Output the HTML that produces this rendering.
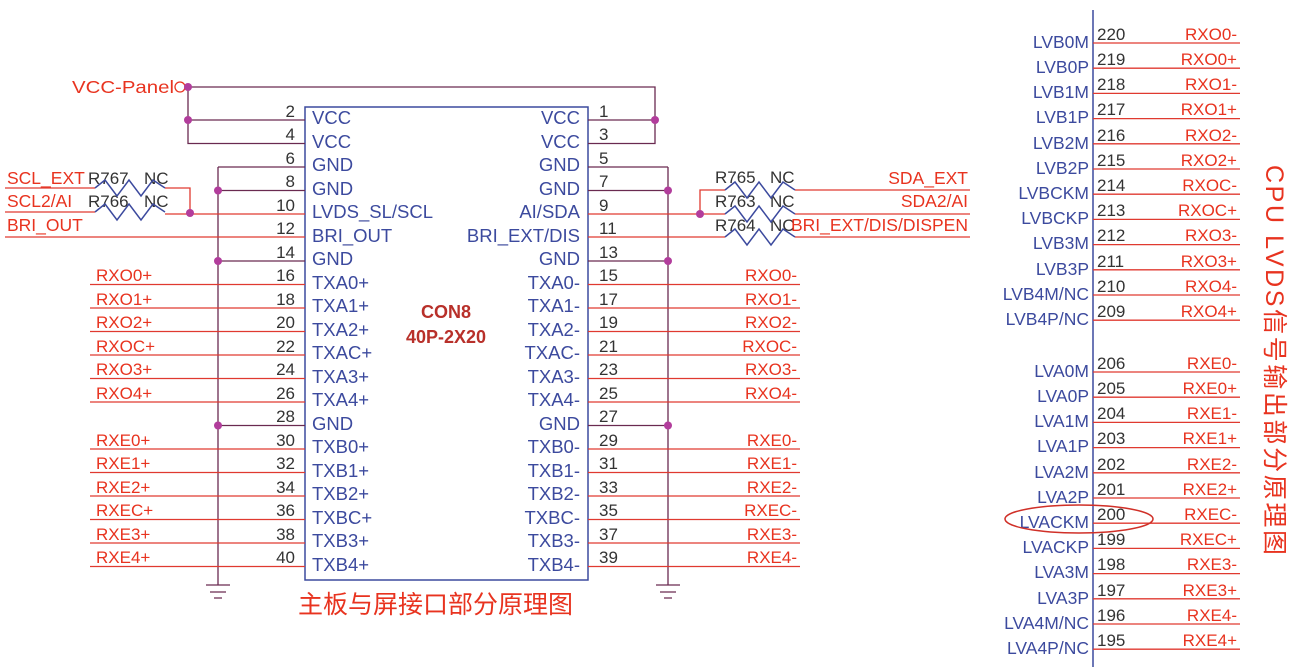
<!DOCTYPE html>
<html><head><meta charset="utf-8"><style>
html,body{margin:0;padding:0;background:#fff;}
svg{display:block;font-family:"Liberation Sans","Noto Sans CJK SC",sans-serif;}
.b{fill:#3c4a9e;}
.r{fill:#e8331f;}
.n{fill:#333;}
.w{stroke:#e03a30;stroke-width:1.3;fill:none;}
.k{stroke:#6a2a50;stroke-width:1.3;fill:none;}
.d{fill:#b23d9c;}
.z{stroke:#3c4a9e;stroke-width:1.5;fill:none;}
</style></head><body>
<svg width="1304" height="667" viewBox="0 0 1304 667">
<rect x="305" y="107" width="283" height="473" fill="none" stroke="#3c4a9e" stroke-width="1.5"/>
<text x="72" y="93" class="r" font-size="17.5" textLength="102" lengthAdjust="spacingAndGlyphs">VCC-Panel</text>
<circle cx="180" cy="87" r="5" fill="none" stroke="#e8331f" stroke-width="1.3"/>
<path class="k" d="M185 87H655V143.5H588M655 120H588M188 87V143.5H305M188 120H305"/>
<circle class="d" cx="188" cy="87" r="4"/><circle class="d" cx="188" cy="120" r="4"/><circle class="d" cx="655" cy="120" r="4"/>
<path class="k" d="M218 167V585M218 167H305M218 190.5H305M218 261H305M218 425.5H305"/>
<path class="k" d="M668 167V585M668 167H588M668 190.5H588M668 261H588M668 425.5H588"/>
<path class="k" d="M206 585H230M210 592H226M214 598H222M656 585H680M660 592H676M664 598H672"/>
<circle class="d" cx="218" cy="190.5" r="4"/><circle class="d" cx="218" cy="261" r="4"/><circle class="d" cx="218" cy="425.5" r="4"/>
<circle class="d" cx="668" cy="190.5" r="4"/><circle class="d" cx="668" cy="261" r="4"/><circle class="d" cx="668" cy="425.5" r="4"/>
<text x="7" y="184" class="r" font-size="17.5">SCL_EXT</text>
<text x="7" y="207" class="r" font-size="17.5">SCL2/AI</text>
<text x="7" y="231" class="r" font-size="17.5">BRI_OUT</text>
<text x="88" y="184" class="n" font-size="17">R767</text><text x="144" y="184" class="n" font-size="17">NC</text>
<text x="88" y="207" class="n" font-size="17">R766</text><text x="144" y="207" class="n" font-size="17">NC</text>
<path class="w" d="M5 188H95M165 188H190V214M5 212H95M165 214H305M5 237H305"/>
<path class="z" d="M95 188l10 -8l12 16l12 -16l12 16l12 -16l12 8M95 212l10 -8l12 16l12 -16l12 16l12 -16l12 8"/>
<circle class="d" cx="190" cy="213" r="4"/>
<text x="715" y="183" class="n" font-size="17">R765</text><text x="770" y="183" class="n" font-size="17">NC</text>
<text x="715" y="207" class="n" font-size="17">R763</text><text x="770" y="207" class="n" font-size="17">NC</text>
<text x="715" y="231" class="n" font-size="17">R764</text><text x="770" y="231" class="n" font-size="17">NC</text>
<text x="968" y="184" class="r" font-size="17.5" text-anchor="end">SDA_EXT</text>
<text x="968" y="207" class="r" font-size="17.5" text-anchor="end">SDA2/AI</text>
<text x="968" y="231" class="r" font-size="17.5" text-anchor="end">BRI_EXT/DIS/DISPEN</text>
<path class="w" d="M588 214H725M700 214V190H725M795 190H970M795 214H970M588 237H725M795 237H970"/>
<path class="z" d="M725 190l10 -8l12 16l12 -16l12 16l12 -16l12 8M725 214l10 -8l12 16l12 -16l12 16l12 -16l12 8M725 237l10 -8l12 16l12 -16l12 16l12 -16l12 8"/>
<circle class="d" cx="700" cy="214" r="4"/>
<path class="w" d="M90 284.5H305M90 308H305M90 331.5H305M90 355H305M90 378.5H305M90 402H305M90 449H305M90 472.5H305M90 496H305M90 519.5H305M90 543H305M90 566.5H305"/>
<path class="w" d="M588 284.5H800M588 308H800M588 331.5H800M588 355H800M588 378.5H800M588 402H800M588 449H800M588 472.5H800M588 496H800M588 519.5H800M588 543H800M588 566.5H800"/>
<g class="r" font-size="17">
<text x="96" y="281">RXO0+</text><text x="96" y="305">RXO1+</text><text x="96" y="328">RXO2+</text><text x="96" y="352">RXOC+</text><text x="96" y="375">RXO3+</text><text x="96" y="399">RXO4+</text>
<text x="96" y="446">RXE0+</text><text x="96" y="469">RXE1+</text><text x="96" y="493">RXE2+</text><text x="96" y="516">RXEC+</text><text x="96" y="540">RXE3+</text><text x="96" y="563">RXE4+</text>
</g>
<g class="r" font-size="17" text-anchor="end">
<text x="797" y="281">RXO0-</text><text x="797" y="305">RXO1-</text><text x="797" y="328">RXO2-</text><text x="797" y="352">RXOC-</text><text x="797" y="375">RXO3-</text><text x="797" y="399">RXO4-</text>
<text x="797" y="446">RXE0-</text><text x="797" y="469">RXE1-</text><text x="797" y="493">RXE2-</text><text x="797" y="516">RXEC-</text><text x="797" y="540">RXE3-</text><text x="797" y="563">RXE4-</text>
</g>
<g class="n" font-size="17" text-anchor="end">
<text x="295" y="117">2</text><text x="295" y="140">4</text><text x="295" y="164">6</text><text x="295" y="187">8</text><text x="295" y="211">10</text><text x="295" y="234">12</text><text x="295" y="258">14</text><text x="295" y="281">16</text><text x="295" y="305">18</text><text x="295" y="328">20</text><text x="295" y="352">22</text><text x="295" y="375">24</text><text x="295" y="399">26</text><text x="295" y="422">28</text><text x="295" y="446">30</text><text x="295" y="469">32</text><text x="295" y="493">34</text><text x="295" y="516">36</text><text x="295" y="540">38</text><text x="295" y="563">40</text>
</g>
<g class="n" font-size="17">
<text x="599" y="117">1</text><text x="599" y="140">3</text><text x="599" y="164">5</text><text x="599" y="187">7</text><text x="599" y="211">9</text><text x="599" y="234">11</text><text x="599" y="258">13</text><text x="599" y="281">15</text><text x="599" y="305">17</text><text x="599" y="328">19</text><text x="599" y="352">21</text><text x="599" y="375">23</text><text x="599" y="399">25</text><text x="599" y="422">27</text><text x="599" y="446">29</text><text x="599" y="469">31</text><text x="599" y="493">33</text><text x="599" y="516">35</text><text x="599" y="540">37</text><text x="599" y="563">39</text>
</g>
<g class="b" font-size="18.5">
<text x="312" y="124">VCC</text><text x="312" y="148">VCC</text><text x="312" y="171">GND</text><text x="312" y="195">GND</text><text x="312" y="218">LVDS_SL/SCL</text><text x="312" y="242">BRI_OUT</text><text x="312" y="265">GND</text><text x="312" y="289">TXA0+</text><text x="312" y="312">TXA1+</text><text x="312" y="336">TXA2+</text><text x="312" y="359">TXAC+</text><text x="312" y="383">TXA3+</text><text x="312" y="406">TXA4+</text><text x="312" y="430">GND</text><text x="312" y="453">TXB0+</text><text x="312" y="477">TXB1+</text><text x="312" y="500">TXB2+</text><text x="312" y="524">TXBC+</text><text x="312" y="547">TXB3+</text><text x="312" y="571">TXB4+</text>
</g>
<g class="b" font-size="18.5" text-anchor="end">
<text x="580" y="124">VCC</text><text x="580" y="148">VCC</text><text x="580" y="171">GND</text><text x="580" y="195">GND</text><text x="580" y="218">AI/SDA</text><text x="580" y="242">BRI_EXT/DIS</text><text x="580" y="265">GND</text><text x="580" y="289">TXA0-</text><text x="580" y="312">TXA1-</text><text x="580" y="336">TXA2-</text><text x="580" y="359">TXAC-</text><text x="580" y="383">TXA3-</text><text x="580" y="406">TXA4-</text><text x="580" y="430">GND</text><text x="580" y="453">TXB0-</text><text x="580" y="477">TXB1-</text><text x="580" y="500">TXB2-</text><text x="580" y="524">TXBC-</text><text x="580" y="547">TXB3-</text><text x="580" y="571">TXB4-</text>
</g>
<text x="446" y="318" text-anchor="middle" fill="#b8302a" font-size="18" font-weight="bold">CON8</text>
<text x="446" y="343" text-anchor="middle" fill="#b8302a" font-size="18" font-weight="bold">40P-2X20</text>
<text x="298" y="613" fill="#e8331f" font-size="25">主板与屏接口部分原理图</text>
<line x1="1093" y1="10" x2="1093" y2="667" stroke="#3c4a9e" stroke-width="1.5"/>
<path class="w" d="M1093 43H1240M1093 68.2H1240M1093 93.4H1240M1093 118.6H1240M1093 143.8H1240M1093 169H1240M1093 194.2H1240M1093 219.4H1240M1093 244.6H1240M1093 269.8H1240M1093 295H1240M1093 320.2H1240"/>
<path class="w" d="M1093 372H1240M1093 397.2H1240M1093 422.4H1240M1093 447.6H1240M1093 472.8H1240M1093 498H1240M1093 523.2H1240M1093 548.4H1240M1093 573.6H1240M1093 598.8H1240M1093 624H1240M1093 649.2H1240"/>
<g class="b" font-size="17.5" text-anchor="end">
<text x="1089" y="48">LVB0M</text><text x="1089" y="73">LVB0P</text><text x="1089" y="98">LVB1M</text><text x="1089" y="123">LVB1P</text><text x="1089" y="149">LVB2M</text><text x="1089" y="174">LVB2P</text><text x="1089" y="199">LVBCKM</text><text x="1089" y="224">LVBCKP</text><text x="1089" y="249">LVB3M</text><text x="1089" y="275">LVB3P</text><text x="1089" y="300">LVB4M/NC</text><text x="1089" y="325">LVB4P/NC</text>
<text x="1089" y="377">LVA0M</text><text x="1089" y="402">LVA0P</text><text x="1089" y="427">LVA1M</text><text x="1089" y="452">LVA1P</text><text x="1089" y="478">LVA2M</text><text x="1089" y="503">LVA2P</text><text x="1089" y="528">LVACKM</text><text x="1089" y="553">LVACKP</text><text x="1089" y="578">LVA3M</text><text x="1089" y="604">LVA3P</text><text x="1089" y="629">LVA4M/NC</text><text x="1089" y="654">LVA4P/NC</text>
</g>
<g class="n" font-size="17">
<text x="1097" y="40">220</text><text x="1097" y="65">219</text><text x="1097" y="90">218</text><text x="1097" y="115">217</text><text x="1097" y="141">216</text><text x="1097" y="166">215</text><text x="1097" y="191">214</text><text x="1097" y="216">213</text><text x="1097" y="241">212</text><text x="1097" y="267">211</text><text x="1097" y="292">210</text><text x="1097" y="317">209</text>
<text x="1097" y="369">206</text><text x="1097" y="394">205</text><text x="1097" y="419">204</text><text x="1097" y="444">203</text><text x="1097" y="470">202</text><text x="1097" y="495">201</text><text x="1097" y="520">200</text><text x="1097" y="545">199</text><text x="1097" y="570">198</text><text x="1097" y="596">197</text><text x="1097" y="621">196</text><text x="1097" y="646">195</text>
</g>
<g class="r" font-size="17" text-anchor="end">
<text x="1237" y="40">RXO0-</text><text x="1237" y="65">RXO0+</text><text x="1237" y="90">RXO1-</text><text x="1237" y="115">RXO1+</text><text x="1237" y="141">RXO2-</text><text x="1237" y="166">RXO2+</text><text x="1237" y="191">RXOC-</text><text x="1237" y="216">RXOC+</text><text x="1237" y="241">RXO3-</text><text x="1237" y="267">RXO3+</text><text x="1237" y="292">RXO4-</text><text x="1237" y="317">RXO4+</text>
<text x="1237" y="369">RXE0-</text><text x="1237" y="394">RXE0+</text><text x="1237" y="419">RXE1-</text><text x="1237" y="444">RXE1+</text><text x="1237" y="470">RXE2-</text><text x="1237" y="495">RXE2+</text><text x="1237" y="520">RXEC-</text><text x="1237" y="545">RXEC+</text><text x="1237" y="570">RXE3-</text><text x="1237" y="596">RXE3+</text><text x="1237" y="621">RXE4-</text><text x="1237" y="646">RXE4+</text>
</g>
<ellipse cx="1079" cy="519" rx="74" ry="14" fill="none" stroke="#d03028" stroke-width="1.5"/>
<text transform="translate(1266,165) rotate(90)" fill="#e8331f" font-size="25" textLength="390">CPU LVDS信号输出部分原理图</text>
</svg>
</body></html>
